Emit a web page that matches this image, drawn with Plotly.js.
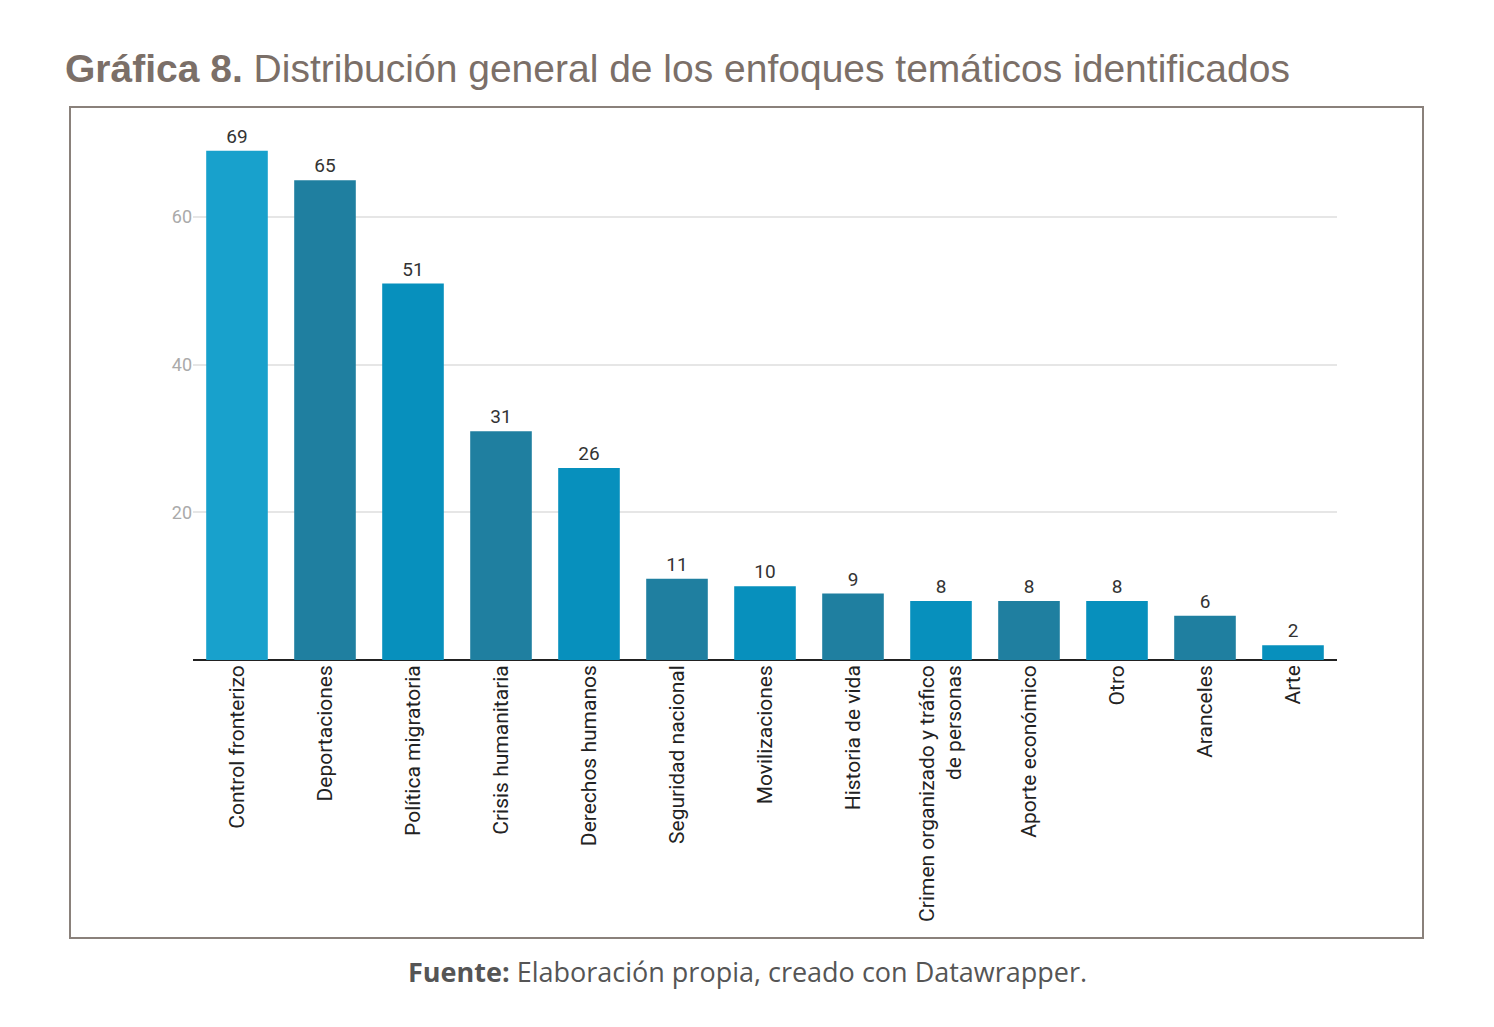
<!DOCTYPE html>
<html><head><meta charset="utf-8">
<script src="https://cdn.plot.ly/plotly-3.0.1.min.js"></script>
<style>body{margin:0;background:#fff}</style>
</head><body>
<div id="chart" style="width:1494px;height:1027px"></div>
<script>
const categories = ["Control fronterizo", "Deportaciones", "Política migratoria", "Crisis humanitaria",
  "Derechos humanos", "Seguridad nacional", "Movilizaciones", "Historia de vida",
  "Crimen organizado y tráfico<br>de personas", "Aporte económico", "Otro", "Aranceles", "Arte"];
const counts = [69, 65, 51, 31, 26, 11, 10, 9, 8, 8, 8, 6, 2];
const barColors = ["#18a1cc", "#1f7fa0", "#0790bd", "#1f7fa0", "#0790bd", "#1f7fa0", "#0790bd",
  "#1f7fa0", "#0790bd", "#1f7fa0", "#0790bd", "#1f7fa0", "#0790bd"];

const trace = {
  type: "bar",
  x: categories,
  y: counts,
  marker: { color: barColors },
  text: counts.map(String),
  textposition: "outside",
  cliponaxis: false,
  textfont: { family: "Roboto, sans-serif", size: 19, color: "#333" },
  hoverinfo: "none",
};

// pixel -> paper helpers for the frame
const L = 193, R = 1337, T = 130, B = 660;
const px = (x) => (x - L) / (R - L);
const py = (y) => (B - y) / (B - T);

const layout = {
  width: 1494, height: 1027,
  margin: { l: L, r: 1494 - R, t: T, b: 1027 - B },
  paper_bgcolor: "#fff", plot_bgcolor: "#fff",
  showlegend: false,
  bargap: 0.3,
  xaxis: {
    tickangle: -90,
    tickfont: { family: "Liberation Sans Narrow, Roboto, sans-serif", size: 21, color: "#222" },
    showline: false, ticks: "",
  },
  yaxis: {
    range: [0, 71.8],
    tickvals: [20, 40, 60],
    tickfont: { family: "Roboto, sans-serif", size: 18, color: "#aaa" },
    gridcolor: "#e6e6e6", gridwidth: 1.5,
    zeroline: true, zerolinecolor: "#222", zerolinewidth: 2,
    ticks: "", ticklen: 0,
  },
  shapes: [{
    type: "rect", xref: "paper", yref: "paper",
    x0: px(70), x1: px(1423), y0: py(938), y1: py(107),
    line: { color: "#8a817b", width: 2 }, layer: "below",
  }],
  annotations: [
    {
      xref: "paper", yref: "paper", x: px(63), y: py(45), xanchor: "left", yanchor: "top",
      showarrow: false,
      text: "<b>Gráfica 8.</b> Distribución general de los enfoques temáticos identificados",
      font: { family: "Liberation Sans, Arial, sans-serif", size: 39, color: "#7b6f68" },
    },
    {
      xref: "paper", yref: "paper", x: px(747), y: py(972), xanchor: "center", yanchor: "middle",
      showarrow: false,
      text: "<b>Fuente:</b> Elaboración propia, creado con Datawrapper.",
      font: { family: "Open Sans, sans-serif", size: 27, color: "#555" },
    },
  ],
};

Plotly.newPlot("chart", [trace], layout, { displayModeBar: false });
</script>
</body></html>
